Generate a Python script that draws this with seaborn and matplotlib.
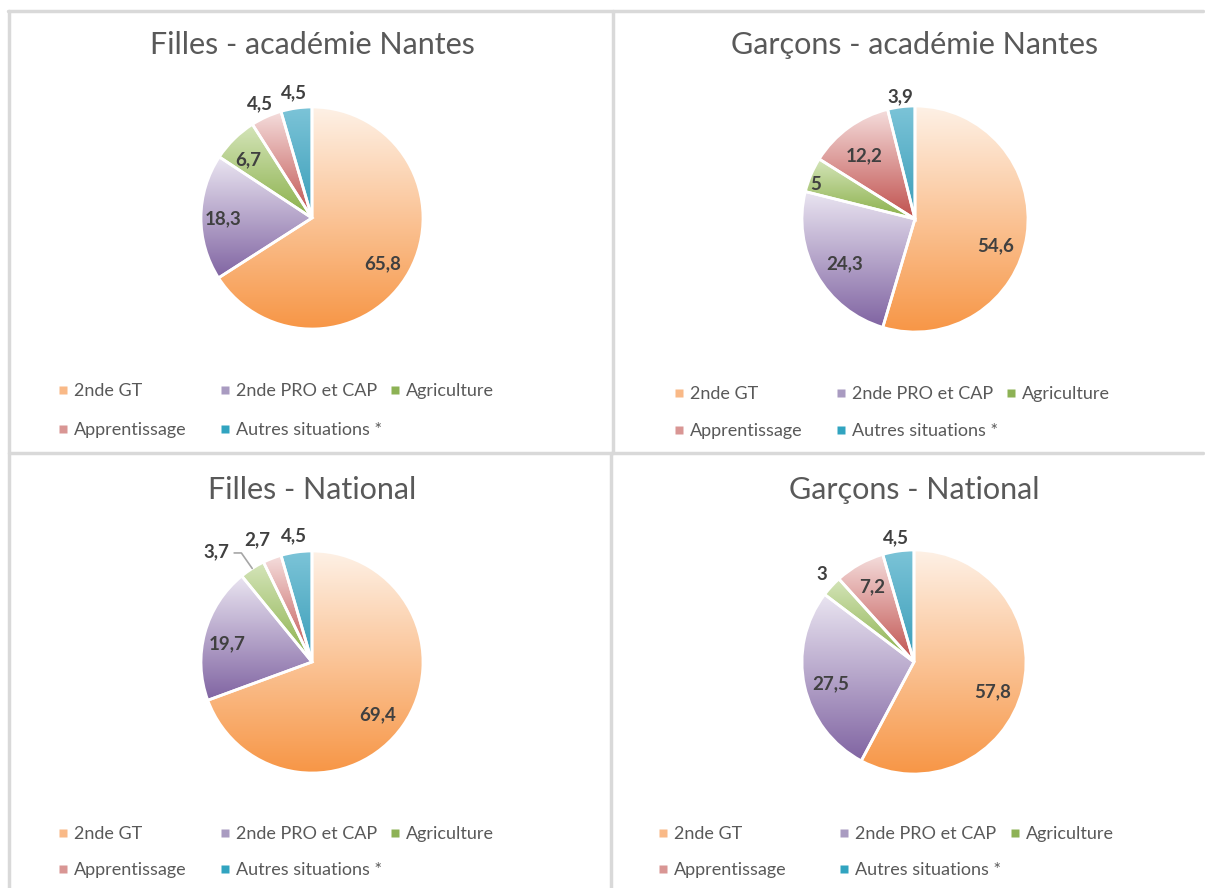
import numpy as np
import seaborn as sns
import matplotlib.pyplot as plt
from matplotlib.colors import LinearSegmentedColormap
from matplotlib.lines import Line2D

# Données
categories = ['2nde GT', '2nde PRO et CAP', 'Agriculture', 'Apprentissage', 'Autres situations *']
titres = ['Filles - académie Nantes', 'Garçons - académie Nantes', 'Filles - National', 'Garçons - National']
filles_nantes = [65.8, 18.3, 6.7, 4.5, 4.5]
garcons_nantes = [54.6, 24.3, 5, 12.2, 3.9]
filles_national = [69.4, 19.7, 3.7, 2.7, 4.5]
garcons_national = [57.8, 27.5, 3, 7.2, 4.5]
series = [filles_nantes, garcons_nantes, filles_national, garcons_national]

# Couleurs (clair -> foncé) façon Excel
couleurs_fonce = ['#F79646', '#8064A2', '#8AB04A', '#C0504D', '#3A9DB8']
couleurs_clair = ['#FEF1E6', '#EAE5F1', '#D5E5BA', '#F5DEDD', '#7CC4D8']
couleurs_legende = ['#F9B987', '#A99BC1', '#8DB255', '#D99694', '#31A4C0']

sns.set_theme(style='white')
plt.rcParams['font.family'] = ['Lato', 'DejaVu Sans']

W, H = 1205, 888
fig = plt.figure(figsize=(W / 100, H / 100), dpi=100)

# mise en page (pixels) : centre, rayon, titre, colonnes et lignes de légende
mise_en_page = [
    dict(c=(312, 218), r=111, titre_y=45, cols=(60, 222, 392), rows=(391, 430)),
    dict(c=(915, 219), r=113, titre_y=45, cols=(676, 838, 1008), rows=(394, 431)),
    dict(c=(312, 662), r=111, titre_y=490, cols=(60, 222, 392), rows=(834, 870)),
    dict(c=(914, 662), r=112, titre_y=490, cols=(660, 841, 1012), rows=(834, 870)),
]
# étiquettes : distance radiale (fraction du rayon) et décalage angulaire (degrés, sens horaire)
dist_etiquettes = [
    [0.76, 0.80, 0.78, 1.13, 1.14],
    [0.75, 0.74, 0.93, 0.72, 1.09],
    [0.76, 0.78, 1.00, 1.21, 1.15],
    [0.75, 0.77, 1.14, 0.77, 1.12],
]
decal_etiquettes = [
    [4, -1, -3, 0, 0],
    [10, -3, -4, -3, 0],
    [4, -3, 0, -3, 0],
    [7, -2, 1, 0, 0],
]

colonnes_leg = [[0, 3], [1, 4], [2]]
gris = '#595959'
fs_leg = 13

for i, (valeurs, titre, mp) in enumerate(zip(series, titres, mise_en_page)):
    cx, cy = mp['c']
    r = mp['r']
    lim = 1.5
    taille = 2 * r * lim
    ax = fig.add_axes([(cx - taille / 2) / W, 1 - (cy + taille / 2) / H, taille / W, taille / H])
    wedges, _ = ax.pie(valeurs, startangle=90, counterclock=False, radius=1,
                       wedgeprops=dict(edgecolor='white', linewidth=2))
    ax.set_xlim(-lim, lim)
    ax.set_ylim(-lim, lim)
    ax.set_aspect('equal')
    ax.axis('off')

    # remplissage en dégradé vertical (clair en haut, foncé en bas)
    grad = np.linspace(0, 1, 256).reshape(-1, 1)
    for k, w in enumerate(wedges):
        cmap = LinearSegmentedColormap.from_list('g%d' % k, [couleurs_clair[k], couleurs_fonce[k]])
        bb = w.get_path().get_extents()
        im = ax.imshow(grad, cmap=cmap, extent=[bb.x0, bb.x1, bb.y0, bb.y1],
                       origin='upper', aspect='auto', zorder=1)
        im.set_clip_path(w)
        w.set_facecolor('none')
        w.set_zorder(2)

    # étiquettes de données
    for k, w in enumerate(wedges):
        mid = (w.theta1 + w.theta2) / 2
        ang = np.deg2rad(mid - decal_etiquettes[i][k])
        d = dist_etiquettes[i][k]
        txt = f'{valeurs[k]:g}'.replace('.', ',')
        style = dict(fontsize=13.5, fontweight='bold', color='#404040', zorder=5)
        if i == 2 and k == 2:
            # petite part : étiquette déportée avec trait de rappel
            a = np.deg2rad(mid)
            ax.annotate(txt, xy=(np.cos(a), np.sin(a)), xytext=(-0.86, 0.99),
                        ha='center', va='center',
                        arrowprops=dict(arrowstyle='-', color='#A6A6A6', lw=1.2,
                                        shrinkA=1, shrinkB=0, relpos=(1, 0.45),
                                        connectionstyle='angle,angleA=0,angleB=125,rad=0'),
                        **style)
        else:
            ax.text(d * np.cos(ang), d * np.sin(ang), txt, ha='center', va='center', **style)

    fig.text(cx / W, 1 - mp['titre_y'] / H, titre, ha='center', va='center',
             fontsize=22, color=gris)

    # légende : une colonne à la fois pour caler les positions
    y1, y2 = mp['rows']
    for j, idx in enumerate(colonnes_leg):
        handles = [Line2D([], [], marker='s', linestyle='none', markersize=5.5,
                          markerfacecolor=couleurs_legende[k], markeredgecolor='none') for k in idx]
        labels = [categories[k] for k in idx]
        ya = (y1 + y2) / 2 if len(idx) == 2 else y1
        fig.legend(handles, labels, loc='center left',
                   bbox_to_anchor=((mp['cols'][j] - 1) / W, 1 - ya / H), frameon=False,
                   fontsize=fs_leg, labelcolor=gris, handlelength=0.45, handletextpad=0.4,
                   labelspacing=(y2 - y1) / (fs_leg * 100 / 72) - 0.88,
                   borderpad=0, borderaxespad=0)

# cadres des panneaux
bord = '#D9D9D9'
for (x0, y0, x1, y1) in [(8, 11, 1203, 11), (9, 11, 9, 888), (613, 11, 613, 453),
                         (611, 453, 611, 888), (9, 453, 1203, 453)]:
    fig.add_artist(Line2D([x0 / W, x1 / W], [1 - y0 / H, 1 - y1 / H], color=bord, lw=2.5))

fig.savefig('out.png', dpi=100)
